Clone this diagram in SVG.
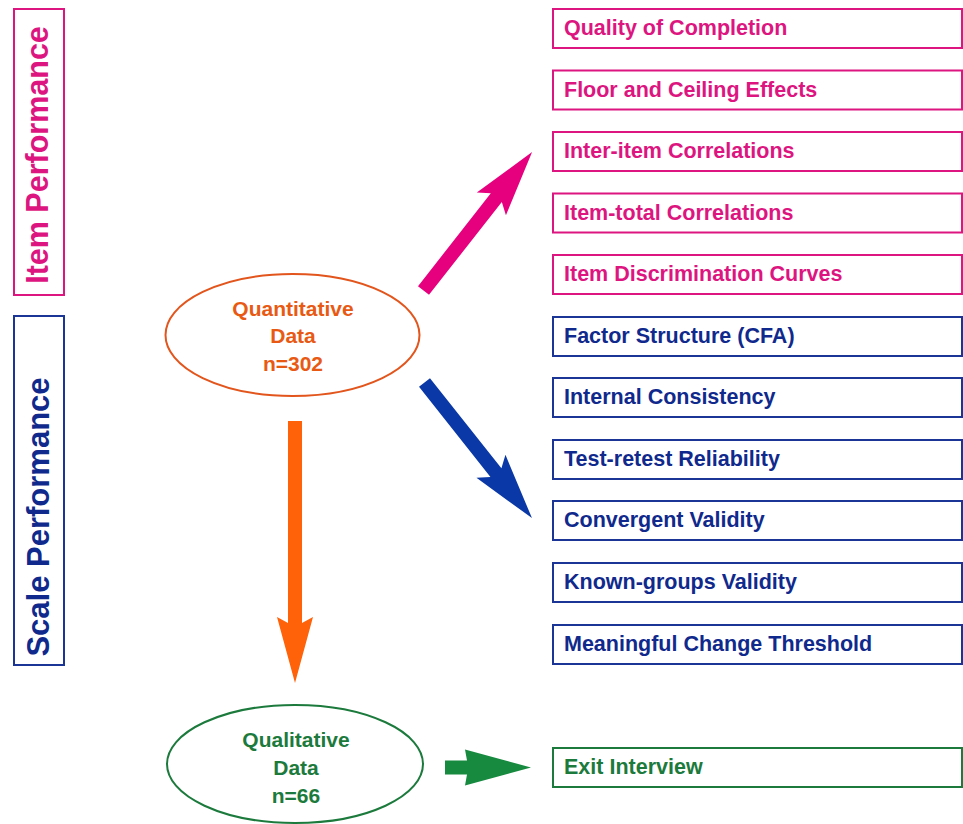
<svg xmlns="http://www.w3.org/2000/svg" width="963" height="824" viewBox="0 0 963 824">
  <style>
    text { font-family: "Liberation Sans", Arial, Helvetica, sans-serif; font-weight: bold; }
    .box { fill: #ffffff; stroke-width: 2; }
    .pink .box { stroke: #DD1580; }
    .pink text { fill: #DD1580; }
    .blue .box { stroke: #1A3596; }
    .blue text { fill: #10298C; }
    .green .box { stroke: #1B7A3C; }
    .green text { fill: #1B7A3C; }
    .lbl { font-size: 21.5px; }
    .side { font-size: 30.5px; text-anchor: middle; }
    .oval { fill: #ffffff; stroke-width: 2; }
    .oval-text { font-size: 21px; text-anchor: middle; }
  </style>

  <rect width="963" height="824" fill="#ffffff"/>

  <!-- side category labels -->
  <g id="item-performance" class="pink">
    <rect class="box" x="14" y="9" width="50" height="286"/>
    <text class="side" transform="translate(48,155) rotate(-90)">Item Performance</text>
  </g>
  <g id="scale-performance" class="blue">
    <rect class="box" x="14" y="316" width="50" height="349"/>
    <text class="side" style="font-size:31px" transform="translate(49,517) rotate(-90)">Scale Performance</text>
  </g>

  <!-- data sources -->
  <g id="quantitative">
    <ellipse class="oval" cx="292.5" cy="335" rx="127" ry="61" stroke="#E2551C"/>
    <g fill="#E85A14">
      <text class="oval-text" x="293" y="316">Quantitative</text>
      <text class="oval-text" x="293" y="343">Data</text>
      <text class="oval-text" x="293" y="371">n=302</text>
    </g>
  </g>
  <g id="qualitative">
    <ellipse class="oval" cx="295" cy="764" rx="128" ry="59" stroke="#1B7A3C"/>
    <g fill="#1B7A3C">
      <text class="oval-text" x="296" y="747">Qualitative</text>
      <text class="oval-text" x="296" y="775">Data</text>
      <text class="oval-text" x="296" y="803">n=66</text>
    </g>
  </g>

  <!-- item performance measures -->
  <g class="pink">
    <g id="quality-of-completion"><rect class="box" x="553" y="9" width="409" height="39"/><text class="lbl" x="564" y="35">Quality of Completion</text></g>
    <g id="floor-ceiling"><rect class="box" x="553" y="70.5" width="409" height="39"/><text class="lbl" x="564" y="96.5">Floor and Ceiling Effects</text></g>
    <g id="inter-item"><rect class="box" x="553" y="132" width="409" height="39"/><text class="lbl" x="564" y="158">Inter-item Correlations</text></g>
    <g id="item-total"><rect class="box" x="553" y="193.5" width="409" height="39"/><text class="lbl" x="564" y="219.5">Item-total Correlations</text></g>
    <g id="item-discrimination"><rect class="box" x="553" y="255" width="409" height="39"/><text class="lbl" x="564" y="281">Item Discrimination Curves</text></g>
  </g>

  <!-- scale performance measures -->
  <g class="blue">
    <g id="factor-structure"><rect class="box" x="553" y="317" width="409" height="39"/><text class="lbl" x="564" y="343">Factor Structure (CFA)</text></g>
    <g id="internal-consistency"><rect class="box" x="553" y="378" width="409" height="39"/><text class="lbl" x="564" y="404">Internal Consistency</text></g>
    <g id="test-retest"><rect class="box" x="553" y="440" width="409" height="39"/><text class="lbl" x="564" y="466">Test-retest Reliability</text></g>
    <g id="convergent"><rect class="box" x="553" y="501" width="409" height="39"/><text class="lbl" x="564" y="527">Convergent Validity</text></g>
    <g id="known-groups"><rect class="box" x="553" y="563" width="409" height="39"/><text class="lbl" x="564" y="589">Known-groups Validity</text></g>
    <g id="meaningful-change"><rect class="box" x="553" y="625" width="409" height="39"/><text class="lbl" x="564" y="651">Meaningful Change Threshold</text></g>
  </g>

  <!-- qualitative measure -->
  <g class="green">
    <g id="exit-interview"><rect class="box" x="553" y="748" width="409" height="39"/><text class="lbl" x="564" y="774">Exit Interview</text></g>
  </g>

  <!-- block arrows; each drawn along +x from its tail and rotated into place -->
  <g id="connectors">
    <path fill="#E6007E" transform="translate(423.5,290.5) rotate(-51.9)" d="M0,-7 H118 L110,-18.5 L176,0 L110,18.5 L118,7 H0 Z"/>
    <path fill="#0A38A6" transform="translate(424.5,382.5) rotate(51.6)" d="M0,-7 H115 L107,-18.5 L173,0 L107,18.5 L115,7 H0 Z"/>
    <path fill="#FF6208" transform="translate(295,421) rotate(90)" d="M0,-7 H202 L196,-18 L262,0 L196,18 L202,7 H0 Z"/>
    <path fill="#178A40" transform="translate(445,767.5)" d="M0,-7 H22 L20,-18 L86,0 L20,18 L22,7 H0 Z"/>
  </g>
</svg>
